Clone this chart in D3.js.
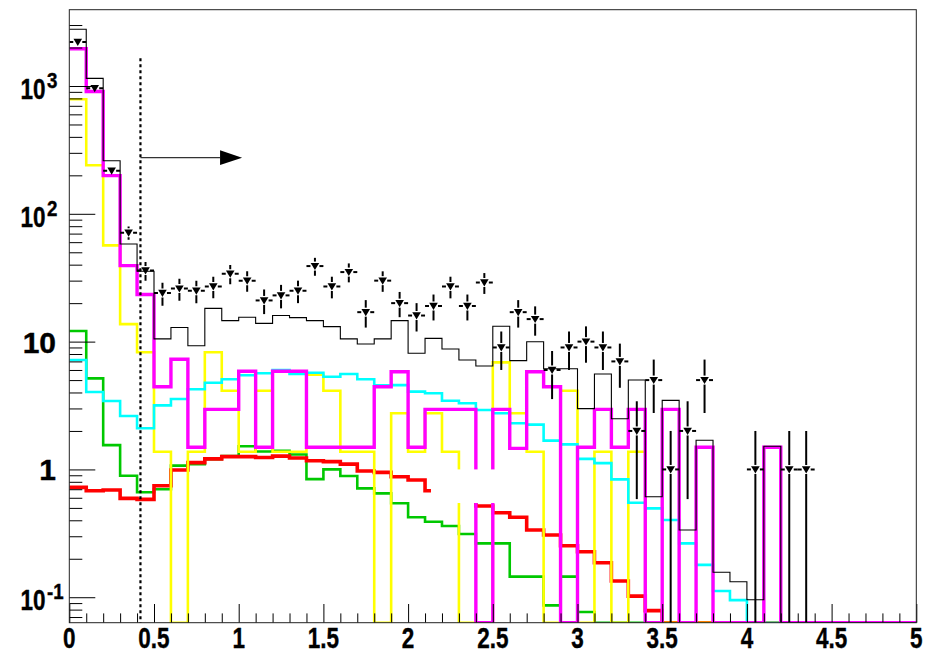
<!DOCTYPE html>
<html>
<head>
<meta charset="utf-8">
<script src="https://cdn.jsdelivr.net/npm/d3@7"></script>
<style>
  html, body { margin: 0; padding: 0; background: #ffffff; }
  svg { display: block; }
  .lbl { font-family: "Liberation Sans", Arial, Helvetica, sans-serif; font-weight: bold; fill: #000; stroke: #000; stroke-width: 0.4; }
</style>
</head>
<body>
<svg id="chart" width="939" height="655"></svg>
<script>
// ---- binning: 50 bins of width 0.1 over [0, 5] ----
const nBins = 50;
const binWidth = 0.1;
const binLow = d3.range(nBins).map(i => +(i * binWidth).toFixed(2));

// ---- histogram contents (per bin, 0 = empty) ----
const totalMC = [2780, 1148, 260, 58.0, 35.5, 10.5, 12.9, 9.29, 18.2, 14.6,
                 15.5, 13.9, 16.0, 15.4, 14.6, 13.1, 10.5, 9.58, 10.5, 14.6,
                 8.10, 10.6, 8.75, 7.18, 6.44, 13.2, 7.10, 9.98, 6.14, 6.14,
                 2.99, 5.58, 2.49, 5.01, 0.611, 3.47, 0.336, 1.69, 0.157, 0.132,
                 0.0956, 1.52, 0, 0, 0, 0, 0, 0, 0, 0];

const magentaHist = [1959, 905, 199, 39.3, 23.4, 4.44, 7.27, 1.49, 2.95, 2.95,
                     5.86, 1.49, 5.86, 5.86, 1.49, 1.49, 1.49, 1.49, 4.44, 5.81,
                     1.49, 2.95, 2.95, 2.95, 0, 2.95, 1.46, 5.81, 4.44, 0,
                     1.49, 2.95, 1.49, 2.95, 0, 2.95, 0, 1.49, 0, 0,
                     0, 1.49, 0, 0, 0, 0, 0, 0, 0, 0];

const yellowHist = [787, 240, 56.6, 13.7, 8.25, 1.375, 0, 1.375, 8.25, 4.13,
                    1.375, 4.13, 1.375, 1.375, 5.5, 4.13, 1.375, 1.375, 0, 2.75,
                    1.375, 2.75, 1.375, 0, 0, 6.88, 2.75, 1.375, 0, 4.13,
                    0, 1.375, 0, 1.375, 0, 0, 0, 0, 0, 0,
                    0, 0, 0, 0, 0, 0, 0, 0, 0, 0];

const cyanHist = [7.18, 4.03, 3.43, 2.62, 2.10, 3.17, 3.56, 4.24, 4.77, 5.07,
                  5.45, 5.65, 6.00, 5.58, 5.71, 5.31, 5.58, 5.07, 4.55, 4.57,
                  4.06, 3.94, 3.45, 3.29, 2.92, 2.75, 2.30, 2.24, 1.68, 1.57,
                  1.21, 1.12, 0.836, 0.549, 0.496, 0.402, 0.264, 0.179, 0.112, 0.095,
                  0, 0, 0, 0, 0, 0, 0, 0, 0, 0];

const greenHist = [12.1, 5.16, 1.55, 0.893, 0.662, 0.699, 1.07, 1.10, 1.20, 1.27,
                   1.52, 1.38, 1.40, 1.31, 0.84, 1.00, 0.888, 0.711, 0.650, 0.543,
                   0.422, 0.390, 0.361, 0.312, 0.264, 0.264, 0.145, 0.145, 0.0864, 0.145,
                   0.0766, 0, 0, 0, 0, 0, 0, 0, 0, 0,
                   0, 0, 0, 0, 0, 0, 0, 0, 0, 0];

const redHist = [0.724, 0.681, 0.690, 0.594, 0.583, 0.745, 0.989, 1.13, 1.21, 1.26,
                 1.26, 1.24, 1.27, 1.23, 1.17, 1.15, 1.10, 0.971, 0.949, 0.877,
                 0.826, 0.681, 0.62, 0.57, 0.517, 0.458, 0.422, 0.336, 0.307, 0.253,
                 0.227, 0.186, 0.134, 0.102, 0.0785, 0, 0, 0, 0, 0,
                 0, 0, 0, 0, 0, 0, 0, 0, 0, 0];

// observed counts
const dataCounts = [2208, 960, 217, 71, 36, 24, 26, 25, 27, 34,
                    30, 21, 23, 25, 39, 27, 35, 17, 30, 20,
                    16, 19, 27, 19, 29, 9, 17, 15, 6, 9,
                    10, 9, 7, 2, 5, 1, 2, 5, 0, 0,
                    1, 0, 1, 1, 0, 0, 0, 0, 0, 0];

// ---- axis ticks ----
const xMajorTicks = [0, 0.5, 1, 1.5, 2, 2.5, 3, 3.5, 4, 4.5, 5];
const xTickLabels = ["0", "0.5", "1", "1.5", "2", "2.5", "3", "3.5", "4", "4.5", "5"];
const yMajorTicks = [0.1, 1, 10, 100, 1000];
const yTickLabels = [["10", "-1"], ["1", ""], ["10", ""], ["10", "2"], ["10", "3"]];

// ---- selection cut marker ----
const cutValue = 0.42;
const cutLineTop = 1650;
const arrowLevel = 275;
const arrowHeadBase = 0.89;
const arrowTip = 1.02;

// blank pave covering part of the pad
const blankPave = { x0: 2.135, x1: 2.53, yTop: 1.0, yBottom: 0.546 };

// ---- frame geometry ----
const frame = { left: 69.3, right: 916.3, top: 9.7, bottom: 622.7 };
const yDomain = [0.0632, 3954];

const svg = d3.select("#chart");
const x = d3.scaleLinear().domain([0, 5]).range([frame.left, frame.right]);
const y = d3.scaleLog().domain(yDomain).range([frame.bottom, frame.top]);

svg.append("defs").append("clipPath").attr("id", "frameClip")
  .append("rect")
  .attr("x", frame.left).attr("y", frame.top)
  .attr("width", frame.right - frame.left).attr("height", frame.bottom - frame.top);

const plot = svg.append("g").attr("clip-path", "url(#frameClip)");

// step outline of a histogram; empty bins sit on the lower frame edge
function stepPoints(values) {
  const pts = [];
  values.forEach((v, i) => {
    const yv = v > 0 ? v : yDomain[0];
    pts.push([binLow[i], yv]);
    pts.push([binLow[i] + binWidth, yv]);
  });
  return pts;
}
const stepLine = d3.line().x(d => x(d[0])).y(d => y(Math.max(d[1], yDomain[0])));

const histStyles = [
  { values: greenHist,   color: "#00c800", width: 2.6 },
  { values: redHist,     color: "#ff0000", width: 3.6 },
  { values: yellowHist,  color: "#ffff00", width: 2.6 },
  { values: cyanHist,    color: "#00ffff", width: 2.6 },
  { values: magentaHist, color: "#ff00ff", width: 3.4 },
  { values: totalMC,     color: "#000000", width: 1.1 }
];

histStyles.forEach(h => {
  plot.append("path")
    .attr("d", stepLine(stepPoints(h.values)))
    .attr("fill", "none")
    .attr("stroke", h.color)
    .attr("stroke-width", h.width)
    .attr("stroke-linejoin", "miter");
});

// blank pave
plot.append("rect")
  .attr("x", x(blankPave.x0)).attr("y", y(blankPave.yTop))
  .attr("width", x(blankPave.x1) - x(blankPave.x0))
  .attr("height", y(blankPave.yBottom) - y(blankPave.yTop))
  .attr("fill", "#ffffff");

// data points with Poisson errors
const gapHalf = 4.5;
const pts = dataCounts.map((n, i) => ({ n, c: binLow[i] + binWidth / 2, lo: binLow[i], hi: binLow[i] + binWidth }))
  .filter(d => d.n > 0);
const dataG = plot.append("g").attr("stroke", "#000").attr("stroke-width", 2);
pts.forEach(d => {
  const cx = x(d.c), cy = y(d.n);
  const err = Math.sqrt(d.n);
  const yUp = y(d.n + err);
  const yDn = (d.n - err) > yDomain[0] ? y(d.n - err) : frame.bottom + 2;
  if (cy - yUp > gapHalf) dataG.append("line").attr("x1", cx).attr("x2", cx).attr("y1", yUp).attr("y2", cy - gapHalf);
  if (yDn - cy > gapHalf) dataG.append("line").attr("x1", cx).attr("x2", cx).attr("y1", cy + gapHalf).attr("y2", yDn);
  dataG.append("line").attr("x1", x(d.lo)).attr("x2", cx - gapHalf).attr("y1", cy).attr("y2", cy);
  dataG.append("line").attr("x1", cx + gapHalf).attr("x2", x(d.hi)).attr("y1", cy).attr("y2", cy);
});
plot.append("g").selectAll("path").data(pts).join("path")
  .attr("transform", d => `translate(${x(d.c)},${y(d.n)})`)
  .attr("d", "M-4.3,-3.2 L4.3,-3.2 L0,4 Z")
  .attr("fill", "#000");

// cut line and arrow
svg.append("line")
  .attr("x1", x(cutValue)).attr("x2", x(cutValue))
  .attr("y1", y(cutLineTop)).attr("y2", frame.bottom)
  .attr("stroke", "#000").attr("stroke-width", 2.2).attr("stroke-dasharray", "3,3");
svg.append("line")
  .attr("x1", x(cutValue)).attr("x2", x(arrowHeadBase))
  .attr("y1", y(arrowLevel)).attr("y2", y(arrowLevel))
  .attr("stroke", "#333").attr("stroke-width", 1.3);
svg.append("path")
  .attr("d", `M${x(arrowHeadBase)},${y(arrowLevel) - 7.3} L${x(arrowTip)},${y(arrowLevel)} L${x(arrowHeadBase)},${y(arrowLevel) + 7.3} Z`)
  .attr("fill", "#000");

// ---- axes ----
const yMinor = [];
[0.01, 0.1, 1, 10, 100, 1000].forEach(dec => {
  for (let k = 2; k <= 9; k++) {
    const v = k * dec;
    if (v > yDomain[0] && v < yDomain[1]) yMinor.push(v);
  }
});
const xMinor = d3.range(51).map(i => +(i * 0.1).toFixed(2)).filter(v => xMajorTicks.indexOf(v) < 0);

const axisG = svg.append("g");
axisG.append("g").attr("transform", `translate(${frame.left},0)`)
  .call(d3.axisLeft(y).tickValues(yMinor).tickSize(-13).tickFormat(() => ""));
axisG.append("g").attr("transform", `translate(${frame.left},0)`)
  .call(d3.axisLeft(y).tickValues(yMajorTicks).tickSize(-26).tickFormat(() => ""));
axisG.append("g").attr("transform", `translate(0,${frame.bottom})`)
  .call(d3.axisBottom(x).tickValues(xMinor).tickSize(-9.3).tickFormat(() => ""));
axisG.append("g").attr("transform", `translate(0,${frame.bottom})`)
  .call(d3.axisBottom(x).tickValues(xMajorTicks).tickSize(-18.7).tickFormat(() => ""));
axisG.selectAll(".domain").remove();
axisG.selectAll(".tick line").attr("stroke", "#000").attr("stroke-width", 1);

// frame
svg.append("rect")
  .attr("x", frame.left).attr("y", frame.top)
  .attr("width", frame.right - frame.left).attr("height", frame.bottom - frame.top)
  .attr("fill", "none").attr("stroke", "#222").attr("stroke-width", 1);

// tick labels
xMajorTicks.forEach((v, i) => {
  svg.append("text").attr("class", "lbl")
    .attr("transform", `translate(${x(v)},648) scale(0.75,1)`)
    .attr("text-anchor", "middle")
    .attr("font-size", 30)
    .text(xTickLabels[i]);
});
yMajorTicks.forEach((v, i) => {
  const [base, sup] = yTickLabels[i];
  if (sup) {
    svg.append("text").attr("class", "lbl")
      .attr("transform", `translate(45.5,${y(v) + 13}) scale(0.75,1)`)
      .attr("text-anchor", "end")
      .attr("font-size", 30)
      .text(base);
    svg.append("text").attr("class", "lbl")
      .attr("transform", `translate(47,${y(v) + 2}) scale(0.85,1)`)
      .attr("text-anchor", "start")
      .attr("font-size", 22)
      .text(sup);
  } else {
    svg.append("text").attr("class", "lbl")
      .attr("transform", `translate(56,${y(v) + 11})`)
      .attr("text-anchor", "end")
      .attr("font-size", 30)
      .text(base);
  }
});
</script>
</body>
</html>
